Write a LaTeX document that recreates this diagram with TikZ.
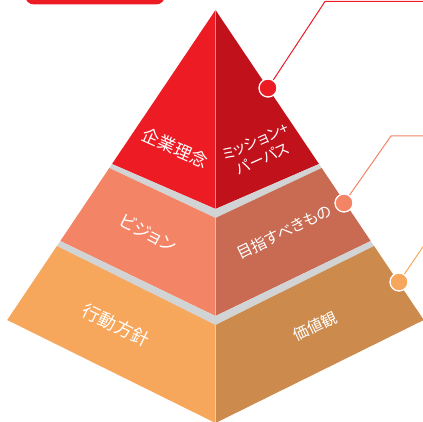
\documentclass[tikz,border=0pt]{standalone}
\usepackage{fontspec}
\newfontfamily\jp[RawFeature=+palt]{Noto Sans CJK JP}
\definecolor{redL}{HTML}{ED1C24}
\definecolor{redR}{HTML}{C1121C}
\definecolor{salL}{HTML}{F48466}
\definecolor{salR}{HTML}{C96A52}
\definecolor{orL}{HTML}{F7A75B}
\definecolor{orR}{HTML}{CC8B4D}
\definecolor{band}{HTML}{D1D3D4}
\begin{document}
\begin{tikzpicture}[x=1pt,y=-1pt,
  lbl/.style={text=white, inner sep=0pt, align=center},
  dot/.style={circle, draw=white, line width=1.3pt, minimum size=18pt, inner sep=0pt},
  leader/.style={line width=1pt},
  midline/.style={white, opacity=0.35, line width=0.6pt}]
\useasboundingbox (0,0) rectangle (423,422);
\clip (0,0) rectangle (423,422);
% corner points
\coordinate (apex) at (215.5,10);
\coordinate (t1l) at (112,164);   \coordinate (t1r) at (319,164);   \coordinate (t1c) at (215.5,209);
\coordinate (g1l) at (109.3,168); \coordinate (g1r) at (321.7,168); \coordinate (g1c) at (215.5,218);
\coordinate (t2l) at (60.3,241);  \coordinate (t2r) at (370.7,241); \coordinate (t2c) at (215.5,316);
\coordinate (g2l) at (56.9,246);  \coordinate (g2r) at (374.1,246); \coordinate (g2c) at (215.5,325);
\coordinate (t3l) at (7.2,320);   \coordinate (t3r) at (423.8,320); \coordinate (t3c) at (215.5,423);
% top-left tab
\fill[redL, rounded corners=9pt] (25,-20) rectangle (165,4.5);
% tier 1
\fill[redL] (apex) -- (t1l) -- (t1c) -- cycle;
\fill[redR] (apex) -- (t1r) -- (t1c) -- cycle;
\draw[midline] (apex) -- (t1c);
% band 1
\fill[band] (t1l) -- (t1c) -- (t1r) -- (g1r) -- (g1c) -- (g1l) -- cycle;
% tier 2
\fill[salL] (g1l) -- (g1c) -- (t2c) -- (t2l) -- cycle;
\fill[salR] (g1r) -- (g1c) -- (t2c) -- (t2r) -- cycle;
\draw[midline] (g1c) -- (t2c);
% band 2
\fill[band] (t2l) -- (t2c) -- (t2r) -- (g2r) -- (g2c) -- (g2l) -- cycle;
% tier 3
\fill[orL] (g2l) -- (g2c) -- (t3c) -- (t3l) -- cycle;
\fill[orR] (g2r) -- (g2c) -- (t3c) -- (t3r) -- cycle;
\draw[midline] (g2c) -- (t3c);
% labels
\node[lbl, font=\jp\fontsize{17.5}{19}\selectfont, rotate=-24] (n1) at (175,148) {企業理念};
\node[lbl, font=\jp\fontsize{15}{19}\selectfont, rotate=24] (n2) at (259,150) {ミッション+\\パーパス};
\node[lbl, font=\jp\fontsize{17.5}{19}\selectfont, rotate=-27] (n3) at (148,233) {ビジョン};
\node[lbl, font=\jp\fontsize{15.5}{17}\selectfont, rotate=26] (n4) at (284,232) {目指すべきもの};
\node[lbl, font=\jp\fontsize{18}{20}\selectfont, rotate=-26] (n5) at (116,325) {行動方針};
\node[lbl, font=\jp\fontsize{15.5}{17}\selectfont, rotate=25] (n6) at (315,326) {価値観};
% leaders
\coordinate (k1) at (325,1.5); \coordinate (e1) at (424,1.5);
\coordinate (k2) at (391,136); \coordinate (e2) at (424,136);
\coordinate (e3) at (431,235);
\node[dot, fill=redL] (d1) at (268,88) {};
\node[dot, fill=salL] (d2) at (344,203) {};
\node[dot, fill=orL] (d3) at (399,282) {};
\draw[leader, redL] (d1) -- (k1) -- (e1);
\draw[leader, salL] (d2) -- (k2) -- (e2);
\draw[leader, orL] (d3) -- (e3);
\end{tikzpicture}
\end{document}
